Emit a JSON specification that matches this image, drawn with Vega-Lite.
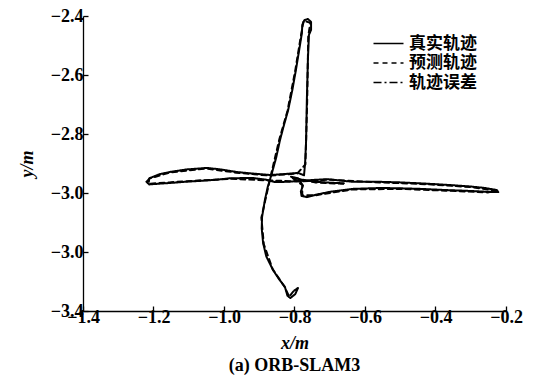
{
  "$schema": "https://vega.github.io/schema/vega-lite/v6.json",
  "width": 423,
  "height": 295,
  "autosize": {"type": "none"},
  "padding": {"left": 83, "top": 16, "right": 33, "bottom": 74},
  "background": "white",
  "config": {
    "view": {"stroke": null},
    "font": "Liberation Serif",
    "axis": {
      "domainColor": "black",
      "domainWidth": 1.3,
      "tickColor": "black",
      "tickWidth": 1.3,
      "tickSize": -5,
      "grid": false,
      "labelFont": "Liberation Serif",
      "labelFontWeight": "bold",
      "labelFontSize": 18,
      "labelColor": "black",
      "titleFont": "Liberation Serif",
      "titleFontWeight": "bold",
      "titleFontSize": 18,
      "titleColor": "black"
    }
  },
  "title": {
    "text": "(a) ORB-SLAM3",
    "orient": "bottom",
    "anchor": "middle",
    "font": "Liberation Serif",
    "fontWeight": "bold",
    "fontSize": 18,
    "color": "black",
    "offset": 5
  },
  "data": {
    "values": [
      {"series": "真实轨迹", "i": 0, "x": -0.800, "y": -3.330},
      {"series": "真实轨迹", "i": 1, "x": -0.790, "y": -3.322},
      {"series": "真实轨迹", "i": 2, "x": -0.798, "y": -3.343},
      {"series": "真实轨迹", "i": 3, "x": -0.812, "y": -3.356},
      {"series": "真实轨迹", "i": 4, "x": -0.820, "y": -3.348},
      {"series": "真实轨迹", "i": 5, "x": -0.827, "y": -3.319},
      {"series": "真实轨迹", "i": 6, "x": -0.845, "y": -3.290},
      {"series": "真实轨迹", "i": 7, "x": -0.861, "y": -3.261},
      {"series": "真实轨迹", "i": 8, "x": -0.880, "y": -3.215},
      {"series": "真实轨迹", "i": 9, "x": -0.889, "y": -3.170},
      {"series": "真实轨迹", "i": 10, "x": -0.893, "y": -3.120},
      {"series": "真实轨迹", "i": 11, "x": -0.892, "y": -3.081},
      {"series": "真实轨迹", "i": 12, "x": -0.884, "y": -3.024},
      {"series": "真实轨迹", "i": 13, "x": -0.876, "y": -2.980},
      {"series": "真实轨迹", "i": 14, "x": -0.864, "y": -2.932},
      {"series": "真实轨迹", "i": 15, "x": -0.852, "y": -2.880},
      {"series": "真实轨迹", "i": 16, "x": -0.841, "y": -2.820},
      {"series": "真实轨迹", "i": 17, "x": -0.830, "y": -2.770},
      {"series": "真实轨迹", "i": 18, "x": -0.818, "y": -2.719},
      {"series": "真实轨迹", "i": 19, "x": -0.806, "y": -2.650},
      {"series": "真实轨迹", "i": 20, "x": -0.796, "y": -2.583},
      {"series": "真实轨迹", "i": 21, "x": -0.786, "y": -2.510},
      {"series": "真实轨迹", "i": 22, "x": -0.779, "y": -2.458},
      {"series": "真实轨迹", "i": 23, "x": -0.778, "y": -2.430},
      {"series": "真实轨迹", "i": 24, "x": -0.772, "y": -2.414},
      {"series": "真实轨迹", "i": 25, "x": -0.762, "y": -2.410},
      {"series": "真实轨迹", "i": 26, "x": -0.753, "y": -2.420},
      {"series": "真实轨迹", "i": 27, "x": -0.753, "y": -2.447},
      {"series": "真实轨迹", "i": 28, "x": -0.759, "y": -2.464},
      {"series": "真实轨迹", "i": 29, "x": -0.762, "y": -2.549},
      {"series": "真实轨迹", "i": 30, "x": -0.765, "y": -2.685},
      {"series": "真实轨迹", "i": 31, "x": -0.767, "y": -2.820},
      {"series": "真实轨迹", "i": 32, "x": -0.770, "y": -2.900},
      {"series": "真实轨迹", "i": 33, "x": -0.773, "y": -2.940},
      {"series": "真实轨迹", "i": 34, "x": -0.790, "y": -2.932},
      {"series": "真实轨迹", "i": 35, "x": -0.830, "y": -2.936},
      {"series": "真实轨迹", "i": 36, "x": -0.869, "y": -2.939},
      {"series": "真实轨迹", "i": 37, "x": -0.920, "y": -2.934},
      {"series": "真实轨迹", "i": 38, "x": -0.963, "y": -2.929},
      {"series": "真实轨迹", "i": 39, "x": -1.010, "y": -2.920},
      {"series": "真实轨迹", "i": 40, "x": -1.048, "y": -2.915},
      {"series": "真实轨迹", "i": 41, "x": -1.105, "y": -2.920},
      {"series": "真实轨迹", "i": 42, "x": -1.150, "y": -2.928},
      {"series": "真实轨迹", "i": 43, "x": -1.182, "y": -2.936},
      {"series": "真实轨迹", "i": 44, "x": -1.210, "y": -2.949},
      {"series": "真实轨迹", "i": 45, "x": -1.220, "y": -2.962},
      {"series": "真实轨迹", "i": 46, "x": -1.212, "y": -2.971},
      {"series": "真实轨迹", "i": 47, "x": -1.180, "y": -2.968},
      {"series": "真实轨迹", "i": 48, "x": -1.153, "y": -2.966},
      {"series": "真实轨迹", "i": 49, "x": -1.110, "y": -2.962},
      {"series": "真实轨迹", "i": 50, "x": -1.068, "y": -2.959},
      {"series": "真实轨迹", "i": 51, "x": -1.020, "y": -2.955},
      {"series": "真实轨迹", "i": 52, "x": -0.983, "y": -2.950},
      {"series": "真实轨迹", "i": 53, "x": -0.918, "y": -2.949},
      {"series": "真实轨迹", "i": 54, "x": -0.880, "y": -2.955},
      {"series": "真实轨迹", "i": 55, "x": -0.855, "y": -2.963},
      {"series": "真实轨迹", "i": 56, "x": -0.820, "y": -2.962},
      {"series": "真实轨迹", "i": 57, "x": -0.784, "y": -2.959},
      {"series": "真实轨迹", "i": 58, "x": -0.750, "y": -2.956},
      {"series": "真实轨迹", "i": 59, "x": -0.708, "y": -2.953},
      {"series": "真实轨迹", "i": 60, "x": -0.634, "y": -2.962},
      {"series": "真实轨迹", "i": 61, "x": -0.560, "y": -2.962},
      {"series": "真实轨迹", "i": 62, "x": -0.501, "y": -2.964},
      {"series": "真实轨迹", "i": 63, "x": -0.430, "y": -2.968},
      {"series": "真实轨迹", "i": 64, "x": -0.359, "y": -2.973},
      {"series": "真实轨迹", "i": 65, "x": -0.300, "y": -2.978},
      {"series": "真实轨迹", "i": 66, "x": -0.260, "y": -2.983},
      {"series": "真实轨迹", "i": 67, "x": -0.226, "y": -2.990},
      {"series": "真实轨迹", "i": 68, "x": -0.222, "y": -2.997},
      {"series": "真实轨迹", "i": 69, "x": -0.250, "y": -2.996},
      {"series": "真实轨迹", "i": 70, "x": -0.302, "y": -2.993},
      {"series": "真实轨迹", "i": 71, "x": -0.370, "y": -2.990},
      {"series": "真实轨迹", "i": 72, "x": -0.444, "y": -2.986},
      {"series": "真实轨迹", "i": 73, "x": -0.500, "y": -2.984},
      {"series": "真实轨迹", "i": 74, "x": -0.557, "y": -2.983},
      {"series": "真实轨迹", "i": 75, "x": -0.634, "y": -2.986},
      {"series": "真实轨迹", "i": 76, "x": -0.699, "y": -2.996},
      {"series": "真实轨迹", "i": 77, "x": -0.740, "y": -3.006},
      {"series": "真实轨迹", "i": 78, "x": -0.765, "y": -3.014},
      {"series": "真实轨迹", "i": 79, "x": -0.780, "y": -3.010},
      {"series": "真实轨迹", "i": 80, "x": -0.782, "y": -2.995},
      {"series": "真实轨迹", "i": 81, "x": -0.776, "y": -2.975},
      {"series": "真实轨迹", "i": 82, "x": -0.790, "y": -2.950},
      {"series": "真实轨迹", "i": 83, "x": -0.810, "y": -2.945},
      {"series": "真实轨迹", "i": 84, "x": -0.780, "y": -2.955},
      {"series": "真实轨迹", "i": 85, "x": -0.740, "y": -2.962},
      {"series": "真实轨迹", "i": 86, "x": -0.700, "y": -2.965},
      {"series": "真实轨迹", "i": 87, "x": -0.660, "y": -2.967},
      {"series": "预测轨迹", "i": 0, "x": -0.803, "y": -3.333},
      {"series": "预测轨迹", "i": 1, "x": -0.815, "y": -3.352},
      {"series": "预测轨迹", "i": 2, "x": -0.829, "y": -3.316},
      {"series": "预测轨迹", "i": 3, "x": -0.862, "y": -3.258},
      {"series": "预测轨迹", "i": 4, "x": -0.887, "y": -3.174},
      {"series": "预测轨迹", "i": 5, "x": -0.894, "y": -3.084},
      {"series": "预测轨迹", "i": 6, "x": -0.882, "y": -3.020},
      {"series": "预测轨迹", "i": 7, "x": -0.866, "y": -2.935},
      {"series": "预测轨迹", "i": 8, "x": -0.843, "y": -2.818},
      {"series": "预测轨迹", "i": 9, "x": -0.820, "y": -2.722},
      {"series": "预测轨迹", "i": 10, "x": -0.798, "y": -2.586},
      {"series": "预测轨迹", "i": 11, "x": -0.781, "y": -2.461},
      {"series": "预测轨迹", "i": 12, "x": -0.774, "y": -2.416},
      {"series": "预测轨迹", "i": 13, "x": -0.755, "y": -2.423},
      {"series": "预测轨迹", "i": 14, "x": -0.761, "y": -2.467},
      {"series": "预测轨迹", "i": 15, "x": -0.764, "y": -2.688},
      {"series": "预测轨迹", "i": 16, "x": -0.769, "y": -2.903},
      {"series": "预测轨迹", "i": 17, "x": -0.792, "y": -2.934},
      {"series": "预测轨迹", "i": 18, "x": -0.871, "y": -2.941},
      {"series": "预测轨迹", "i": 19, "x": -0.965, "y": -2.931},
      {"series": "预测轨迹", "i": 20, "x": -1.050, "y": -2.917},
      {"series": "预测轨迹", "i": 21, "x": -1.152, "y": -2.930},
      {"series": "预测轨迹", "i": 22, "x": -1.212, "y": -2.951},
      {"series": "预测轨迹", "i": 23, "x": -1.214, "y": -2.969},
      {"series": "预测轨迹", "i": 24, "x": -1.155, "y": -2.964},
      {"series": "预测轨迹", "i": 25, "x": -1.066, "y": -2.957},
      {"series": "预测轨迹", "i": 26, "x": -0.981, "y": -2.952},
      {"series": "预测轨迹", "i": 27, "x": -0.878, "y": -2.957},
      {"series": "预测轨迹", "i": 28, "x": -0.786, "y": -2.961},
      {"series": "预测轨迹", "i": 29, "x": -0.706, "y": -2.955},
      {"series": "预测轨迹", "i": 30, "x": -0.558, "y": -2.964},
      {"series": "预测轨迹", "i": 31, "x": -0.428, "y": -2.970},
      {"series": "预测轨迹", "i": 32, "x": -0.298, "y": -2.980},
      {"series": "预测轨迹", "i": 33, "x": -0.228, "y": -2.992},
      {"series": "预测轨迹", "i": 34, "x": -0.252, "y": -2.998},
      {"series": "预测轨迹", "i": 35, "x": -0.372, "y": -2.992},
      {"series": "预测轨迹", "i": 36, "x": -0.502, "y": -2.986},
      {"series": "预测轨迹", "i": 37, "x": -0.636, "y": -2.988},
      {"series": "预测轨迹", "i": 38, "x": -0.742, "y": -3.008},
      {"series": "预测轨迹", "i": 39, "x": -0.778, "y": -3.008},
      {"series": "预测轨迹", "i": 40, "x": -0.778, "y": -2.973},
      {"series": "预测轨迹", "i": 41, "x": -0.808, "y": -2.947},
      {"series": "预测轨迹", "i": 42, "x": -0.742, "y": -2.964},
      {"series": "预测轨迹", "i": 43, "x": -0.662, "y": -2.969}
    ]
  },
  "mark": {"type": "line", "color": "black", "strokeWidth": 2, "strokeJoin": "round", "strokeCap": "round"},
  "encoding": {
    "x": {
      "field": "x",
      "type": "quantitative",
      "scale": {"domain": [-1.4, -0.2], "nice": false, "zero": false},
      "axis": {"values": [-1.4, -1.2, -1.0, -0.8, -0.6, -0.4, -0.2], "format": ".1f", "title": "x/m", "titleFontStyle": "italic", "labelPadding": 2, "titlePadding": 8, "labelFlush": false}
    },
    "y": {
      "field": "y",
      "type": "quantitative",
      "scale": {"domain": [-3.4, -2.4], "nice": false, "zero": false},
      "axis": {"values": [-3.4, -3.2, -3.0, -2.8, -2.6, -2.4], "format": ".1f", "labelExpr": "datum.value < -3.1 && datum.value > -3.3 ? '−3.0' : datum.label", "title": "y/m", "titleFontStyle": "italic", "labelPadding": 5, "titlePadding": 14, "labelFlush": false}
    },
    "order": {"field": "i", "type": "quantitative"},
    "strokeDash": {
      "field": "series",
      "type": "nominal",
      "scale": {"domain": ["真实轨迹", "预测轨迹", "轨迹误差"], "range": [[1, 0], [5, 4], [8, 3, 2, 3]]},
      "legend": {
        "title": null,
        "orient": "none",
        "legendX": 297,
        "legendY": 19,
        "symbolType": "M-2,0H2",
        "symbolStrokeColor": "black",
        "symbolFillColor": "transparent",
        "symbolStrokeWidth": 1.6,
        "symbolSize": 225,
        "labelFont": "Noto Sans CJK SC",
        "labelFontWeight": "bold",
        "labelFontSize": 17,
        "labelColor": "black",
        "rowPadding": 1.5,
        "labelOffset": 12
      }
    }
  }
}
